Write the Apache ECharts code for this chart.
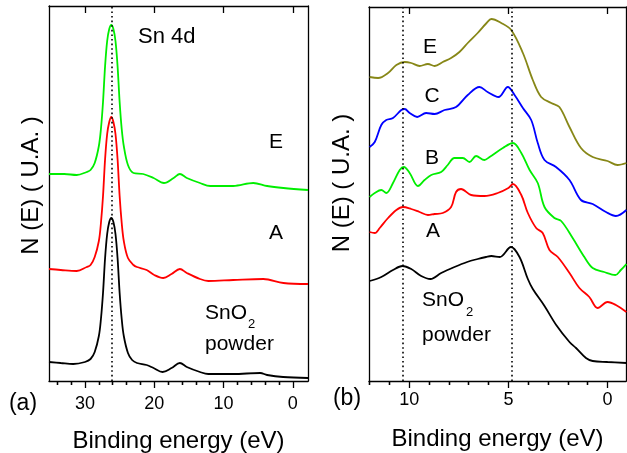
<!DOCTYPE html>
<html>
<head>
<meta charset="utf-8">
<script src="https://cdn.jsdelivr.net/npm/echarts@6/dist/echarts.min.js"></script>
<style>
  html, body { margin: 0; padding: 0; background: #fff; }
  #chart { width: 627px; height: 453px; }
</style>
</head>
<body>
<div id="chart"></div>
<script>
// (a) Sn 4d region: [binding energy eV, intensity arb. units]
const aPowder = [[35.2,19],[33.5,18],[31.7,17],[30.0,19],[29.2,22],[28.6,29],[28.0,45],[27.7,62],[27.4,88],[27.1,123],[26.8,147],[26.5,159],[26.2,163],[25.9,159],[25.6,147],[25.3,123],[25.0,88],[24.7,62],[24.4,45],[23.8,28],[23.2,21],[22.5,18],[21.1,16],[20.1,13],[18.8,9],[17.5,13],[16.3,18],[15.3,14],[13.4,9],[12.2,7],[8.6,7],[4.7,8],[3.7,6],[1.4,4],[-2.2,3]]
const aSampleA = [[35.2,112],[33.5,111],[31.2,110],[29.75,114],[29.2,116],[28.6,124],[28.0,140],[27.7,158],[27.4,185],[27.1,222],[26.8,247],[26.5,259],[26.2,264],[25.9,259],[25.6,247],[25.3,222],[25.0,185],[24.7,158],[24.4,140],[23.8,123],[23.0,116],[22.5,114],[21.1,111],[20.0,106],[18.7,103],[17.5,107],[16.3,112],[15.3,108],[13.4,102],[12.2,100],[8.6,101],[4.25,102],[1.35,98],[-2.2,97]]
const aSampleE = [[35.2,207],[33.0,207],[31.2,206],[29.75,209],[29.2,211],[28.6,218],[28.0,235],[27.7,252],[27.4,279],[27.1,315],[26.8,340],[26.5,352],[26.2,356],[25.9,352],[25.6,340],[25.3,315],[25.0,279],[24.7,252],[24.4,235],[23.8,216],[23.0,208],[21.6,207],[20.1,203],[18.6,198],[17.2,203],[16.3,207],[15.3,203],[13.4,198],[11.9,195],[8.6,195],[5.7,198],[3.7,195],[1.35,193],[-2.2,191]]

// (b) valence band region
const bPowder = [[12.0,100],[11.41,104],[10.82,111],[10.35,115],[9.9,112],[9.4,105],[8.93,102],[8.39,108],[7.72,114],[7.08,119],[6.55,122],[6.13,124],[5.86,125],[5.44,124],[4.87,134],[4.44,124],[4.02,102],[3.77,92],[3.18,75],[2.59,56],[1.92,39],[1.59,33],[1.09,23],[0.75,20],[0.0,19],[-0.95,18]]
const bSampleA = [[12.0,149],[11.74,148],[11.49,153],[11.07,163],[10.65,171],[10.32,174],[9.9,172],[9.48,169],[9.06,166],[8.72,167],[8.31,168],[7.89,174],[7.64,189],[7.39,192],[6.88,186],[6.21,185],[5.54,188],[5.0,193],[4.77,197],[4.35,186],[4.02,168],[3.6,153],[3.27,148],[2.93,131],[2.51,124],[1.92,108],[1.42,93],[0.92,84],[0.5,73],[0.0,79],[-0.42,76],[-0.95,69]]
const bSampleB = [[12.0,184],[11.74,188],[11.41,191],[11.16,188],[10.82,198],[10.48,211],[10.27,214],[9.98,208],[9.56,195],[9.23,201],[8.89,206],[8.39,209],[8.06,216],[7.72,223],[7.3,223],[6.96,219],[6.63,225],[6.21,221],[5.95,224],[5.28,233],[4.77,238],[4.35,228],[3.93,211],[3.52,198],[3.18,174],[2.68,163],[2.34,160],[1.76,143],[1.17,124],[0.75,113],[0.17,109],[-0.39,106],[-0.67,111],[-0.95,117]]
const bSampleC = [[12.0,234],[11.74,239],[11.41,256],[11.16,261],[10.82,263],[10.4,271],[10.23,272],[9.98,268],[9.6,264],[9.15,268],[8.72,267],[8.22,271],[7.64,274],[7.05,286],[6.46,294],[6.05,289],[5.5,284],[5.03,294],[4.69,286],[4.27,273],[3.85,261],[3.52,238],[3.18,221],[2.6,214],[1.92,201],[1.34,181],[0.75,177],[0.08,169],[-0.42,165],[-0.95,171]]
const bSampleE = [[12.0,304],[11.57,303],[11.07,308],[10.65,316],[10.23,319],[9.9,318],[9.48,315],[9.06,317],[8.72,315],[8.31,319],[7.89,323],[7.47,329],[7.05,338],[6.55,348],[6.1,358],[5.86,362],[5.36,358],[4.86,351],[4.27,328],[3.77,301],[3.35,284],[2.84,278],[2.43,274],[1.92,254],[1.34,233],[0.75,224],[0.0,220],[-0.5,216],[-0.95,218]]

const refLineA = [26.2]
const refLineB = [10.35, 4.85]
const majorTicksA = [0, 10, 20, 30]
const minorTicksA = [2, 4, 6, 8, 12, 14, 16, 18, 22, 24, 26, 28, 32, 34]
const majorTicksB = [0, 5, 10]
const minorTicksB = [1, 2, 3, 4, 6, 7, 8, 9, 11, 12]

const font = '"Liberation Sans", Arial, sans-serif'
const black = '#000'
const frame = { show: true, onZero: false, lineStyle: { color: black, width: 1.3 } }
const tickLine = { color: black, width: 1.3 }

function xAxes(grid, min, max, major, minor, labelMargin, titleGap) {
    const base = { type: 'value', gridIndex: grid, min, max, inverse: true, splitLine: { show: false } }
    return [
        {
            ...base, position: 'bottom', axisLine: frame,
            axisTick: { customValues: major, length: 7, lineStyle: tickLine },
            axisLabel: { customValues: major, fontSize: 18, color: black, margin: labelMargin, fontFamily: font },
            name: 'Binding energy (eV)', nameLocation: 'middle', nameGap: titleGap,
            nameTextStyle: { fontSize: 24, color: black, fontFamily: font }
        },
        { ...base, position: 'bottom', axisLine: { show: false }, axisTick: { customValues: minor, length: 4, lineStyle: tickLine }, axisLabel: { show: false } },
        { ...base, position: 'top', axisLine: frame, axisTick: { customValues: major, length: 7, inside: true, lineStyle: tickLine }, axisLabel: { show: false } },
        { ...base, position: 'top', axisLine: { show: false }, axisTick: { customValues: minor, length: 4, inside: true, lineStyle: tickLine }, axisLabel: { show: false } }
    ]
}

function yAxes(grid, max, nameGap, lift) {
    const base = { type: 'value', gridIndex: grid, min: 0, max, splitLine: { show: false }, axisTick: { show: false }, axisLabel: { show: false } }
    return [
        {
            ...base, position: 'left', axisLine: frame,
            name: 'N (E) ( U.A. )', nameLocation: 'middle', nameGap,
            nameTextStyle: { fontSize: 24, color: black, fontFamily: font, padding: [0, 0, 0, lift] }
        },
        { ...base, position: 'right', axisLine: frame }
    ]
}

function curve(data, color, xIdx, yIdx, refs) {
    const s = {
        type: 'line', data, xAxisIndex: xIdx, yAxisIndex: yIdx,
        smooth: 0.35, symbol: 'none', lineStyle: { color, width: 1.8 }
    }
    if (refs) {
        s.markLine = {
            silent: true, symbol: 'none', label: { show: false },
            lineStyle: { color: black, type: [1.6, 3], width: 1.6 },
            data: refs.map(v => ({ xAxis: v }))
        }
    }
    return s
}

function label(text, x, y, size, align) {
    return {
        type: 'text', x, y, z: 10,
        style: { text, fontSize: size || 21, fontFamily: font, fill: black, align: align || 'left', verticalAlign: 'middle' }
    }
}

const chart = echarts.init(document.getElementById('chart'))
chart.setOption({
    animation: false,
    backgroundColor: '#fff',
    grid: [
        { left: 49, top: 6, width: 259, height: 375, outerBoundsMode: 'none', containLabel: false },
        { left: 369, top: 7, width: 257, height: 374, outerBoundsMode: 'none', containLabel: false }
    ],
    xAxis: [
        ...xAxes(0, -2.2, 35.2, majorTicksA, minorTicksA, 14, 48),
        ...xAxes(1, -0.93, 12.03, majorTicksB, minorTicksB, 10, 46)
    ],
    yAxis: [...yAxes(0, 375, 6, 16), ...yAxes(1, 374, 15, 22)],
    series: [
        curve(aPowder, '#000000', 0, 0, refLineA),
        curve(aSampleA, '#ff0000', 0, 0),
        curve(aSampleE, '#00ee00', 0, 0),
        curve(bPowder, '#000000', 4, 2, refLineB),
        curve(bSampleA, '#ff0000', 4, 2),
        curve(bSampleB, '#00ee00', 4, 2),
        curve(bSampleC, '#0000ff', 4, 2),
        curve(bSampleE, '#878717', 4, 2)
    ],
    graphic: [
        label('Sn 4d', 138, 37, 22),
        label('E', 276, 142, 21, 'center'),
        label('A', 276, 233, 21, 'center'),
        label('SnO', 205, 313),
        label('2', 248, 324, 13),
        label('powder', 205, 344),
        label('(a)', 23, 404, 23, 'center'),
        label('E', 430, 47, 21, 'center'),
        label('C', 432, 96, 21, 'center'),
        label('B', 432, 158, 21, 'center'),
        label('A', 433, 231, 21, 'center'),
        label('SnO', 422, 300),
        label('2', 466, 312, 13),
        label('powder', 422, 335),
        label('(b)', 347, 399, 23, 'center')
    ]
})
</script>
</body>
</html>
